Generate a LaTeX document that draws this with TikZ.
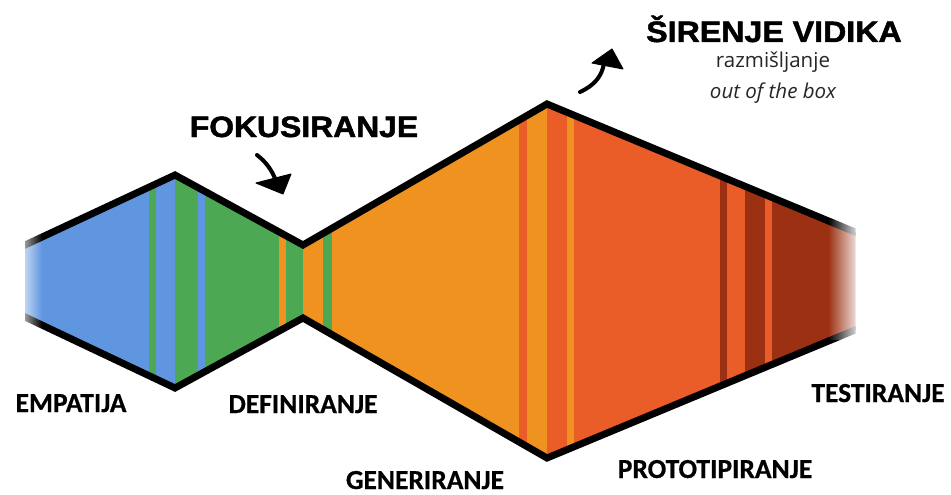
\documentclass[tikz,border=0pt]{standalone}
\usepackage{fontspec}
\setmainfont{Liberation Sans}
\newfontfamily\heavyfont{Liberation Sans}[BoldFeatures={FakeBold=1.6}]
\newfontfamily\labelfont{Carlito}[BoldFeatures={FakeBold=0.6}]
\newfontfamily\notefont{Open Sans}
\usetikzlibrary{calc,fadings}

\definecolor{cblue}{RGB}{96,150,224}
\definecolor{cgreen}{RGB}{76,168,82}
\definecolor{corange}{RGB}{240,146,32}
\definecolor{cred}{RGB}{234,92,40}
\definecolor{cdark}{RGB}{156,48,18}

\tikzset{
  border/.style={line width=7pt, line join=miter, line cap=butt, black},
  phase/.style={font=\labelfont\bfseries\fontsize{27.5}{30}\selectfont, inner sep=0pt, anchor=base},
  headline/.style={font=\heavyfont\bfseries\fontsize{29.5}{32}\selectfont, inner sep=0pt, anchor=base},
  note/.style={font=\notefont\fontsize{20.5}{23}\selectfont, inner sep=0pt, anchor=base, text=black!85},
  shaft/.style={line width=4pt, line cap=round, black},
  tip/.style={fill=black, draw=black, line width=1pt, line join=round}
}

\begin{document}
\begin{tikzpicture}[x=1pt,y=-1pt]
\useasboundingbox (0,0) rectangle (951,495);

% outline corners of the double-diamond band
\coordinate (t0) at (25,245);
\coordinate (t1) at (175,175);
\coordinate (t2) at (303,245);
\coordinate (t3) at (547,104);
\coordinate (t4) at (855,232);
\coordinate (b0) at (25,317);
\coordinate (b1) at (175,388);
\coordinate (b2) at (303,318);
\coordinate (b3) at (547,458);
\coordinate (b4) at (855,330);

% coloured vertical stripes inside the band
\begin{scope}
  \clip (t0)--(t1)--(t2)--(t3)--(t4)--(b4)--(b3)--(b2)--(b1)--(b0)--cycle;
  \foreach \a/\b/\c in {
      20/149/cblue, 149/156/cgreen, 156/175/cblue, 175/198/cgreen,
      198/205/cblue, 205/279/cgreen, 279/286/corange, 286/303/cgreen,
      303/323/corange, 323/332/cgreen, 332/519/corange, 519/527/cred,
      527/547/corange, 547/567/cred, 567/574/corange, 574/720/cred,
      720/727/cdark, 727/745/cred, 745/765/cdark, 765/772/cred,
      772/860/cdark}
    \fill[\c] (\a,90) rectangle (\b,470);
\end{scope}

% black outline, cut off vertically at both ends
\begin{scope}
  \clip (25,0) rectangle (855,495);
  \draw[border] ($(t0)!-10pt!(t1)$)--(t1)--(t2)--(t3)--(t4)--($(t4)!-10pt!(t3)$);
  \draw[border] ($(b0)!-10pt!(b1)$)--(b1)--(b2)--(b3)--(b4)--($(b4)!-10pt!(b3)$);
\end{scope}

% soft fade at both open ends
\fill[white, fill opacity=0.6, path fading=east] (25,230) rectangle (42,335);
\fill[white, fill opacity=0.8, path fading=west] (828,220) rectangle (855,340);

% headings
\node[headline] (fokus) at (304,137) {\scalebox{1.08}[1]{FOKUSIRANJE}};
\node[headline] (sirenje) at (774,42) {\scalebox{1.09}[1]{ŠIRENJE VIDIKA}};
\node[note] (razm) at (773,68) {razmišljanje};
\node[note] (box) at (773,99) {\itshape out of the box};

% phase labels
\node[phase] (empatija) at (71,412) {EMPATIJA};
\node[phase] (definiranje) at (303,413) {DEFINIRANJE};
\node[phase] (generiranje) at (425,489) {GENERIRANJE};
\node[phase] (prototip) at (715,478) {PROTOTIPIRANJE};
\node[phase] (testiranje) at (878,402) {TESTIRANJE};

% hand-drawn arrow under FOKUSIRANJE
\coordinate (fa0) at (257,155);
\coordinate (fa1) at (276,181);
\coordinate (fh1) at (256,183);
\coordinate (fh2) at (291,174);
\coordinate (fh3) at (283,194);
\draw[shaft] (fa0) .. controls (266,162) and (272,170) .. (fa1);
\filldraw[tip] (fh1)--(fh2)--(fh3)--cycle;

% hand-drawn arrow towards ŠIRENJE VIDIKA
\coordinate (sa0) at (580,92);
\coordinate (sa1) at (604,63);
\coordinate (sh1) at (592,63);
\coordinate (sh2) at (612,49);
\coordinate (sh3) at (623,69);
\draw[shaft] (sa0) .. controls (595,85) and (602,76) .. (sa1);
\filldraw[tip] (sh1)--(sh2)--(sh3)--cycle;
\end{tikzpicture}
\end{document}
